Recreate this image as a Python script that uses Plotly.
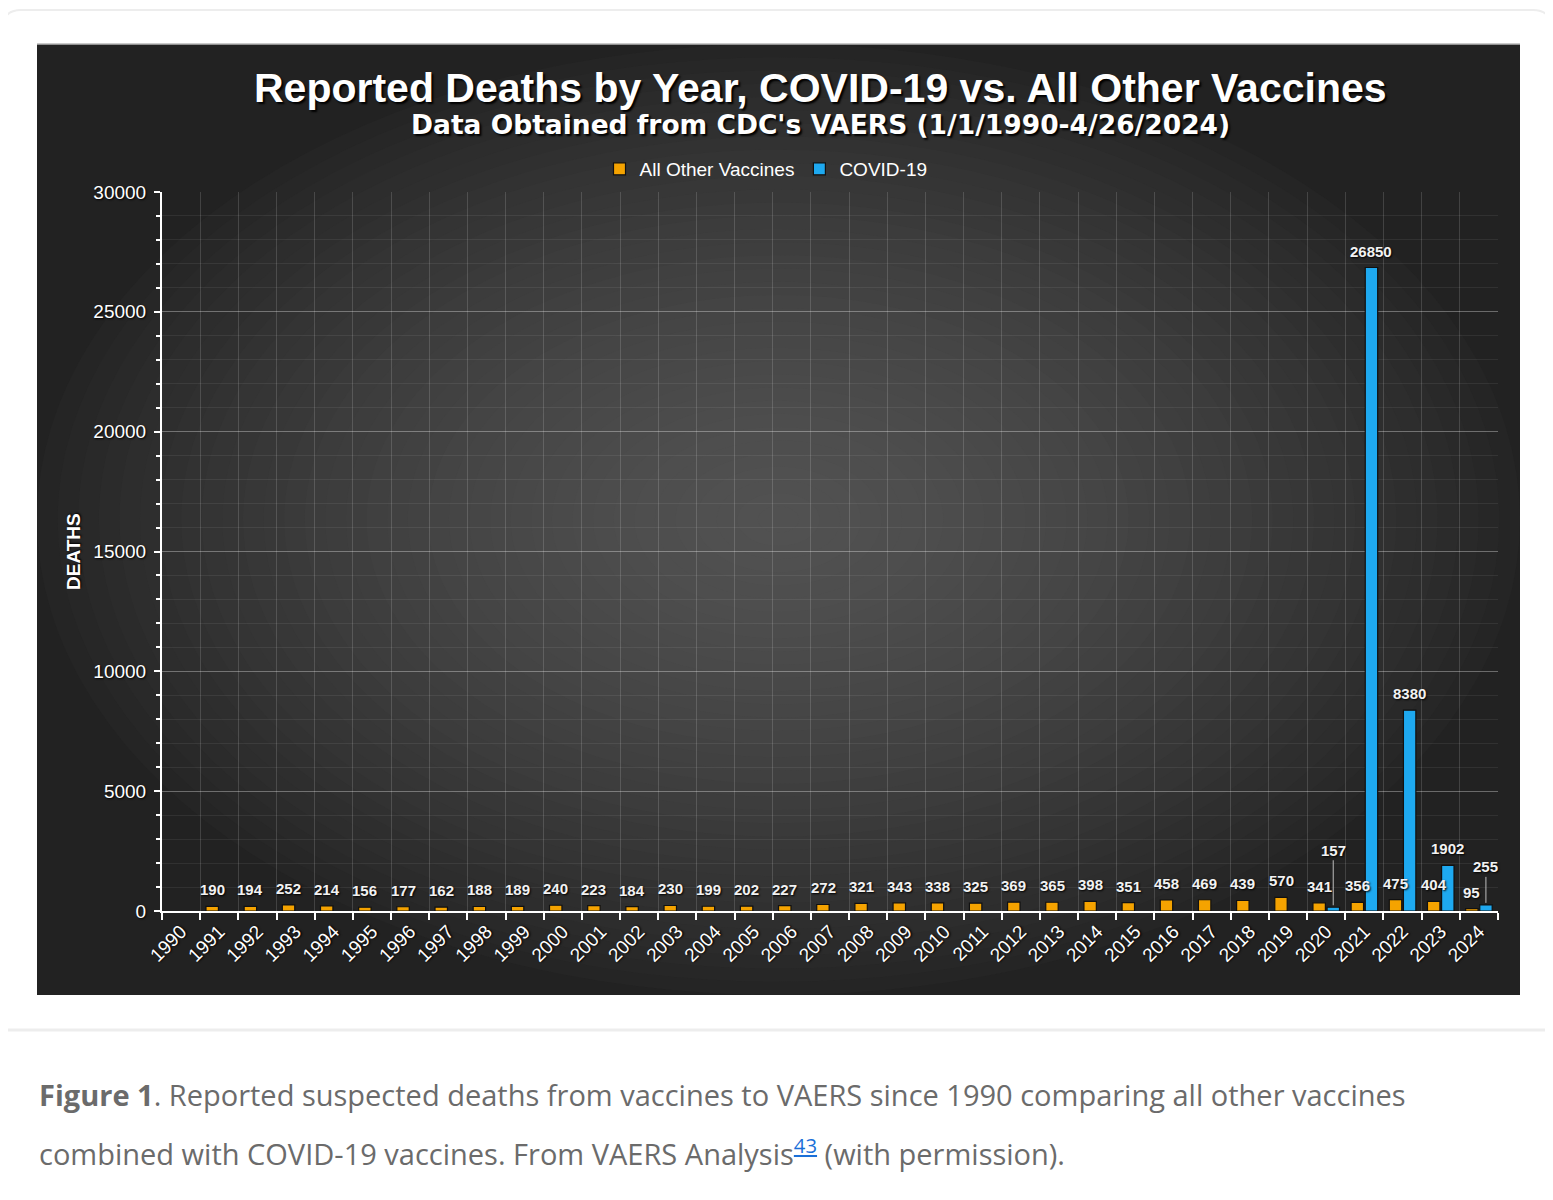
import plotly.graph_objects as go

# ---------------- data ----------------
years = [str(y) for y in range(1990, 2025)]
other_vaccines = [None, 190, 194, 252, 214, 156, 177, 162, 188, 189,
                  240, 223, 184, 230, 199, 202, 227, 272, 321, 343,
                  338, 325, 369, 365, 398, 351, 458, 469, 439, 570,
                  341, 356, 475, 404, 95]
covid19 = [None, None, None, None, None, None, None, None, None, None,
           None, None, None, None, None, None, None, None, None, None,
           None, None, None, None, None, None, None, None, None, None,
           157, 26850, 8380, 1902, 255]
callout_years = ["2020", "2024"]          # labels drawn with leader lines
callout_offsets = [-57, -38]

title = "Reported Deaths by Year, COVID-19 vs. All Other Vaccines"
subtitle = "Data Obtained from CDC's VAERS (1/1/1990-4/26/2024)"

# ---------------- geometry helpers (page coordinates) ----------------
OFF = 8                      # default body margin of the html page
PW, PH = 1553, 1200
W, H = PW - OFF, PH - OFF
L, R, T, B = 162, 1498, 192, 911


def px(x):
    return (x - L) / (R - L)


def py(y):
    return (B - y) / (B - T)


FONT = "Liberation Sans, Arial, sans-serif"
SHADOW = "1px 1px 2px #000"
LABEL_FONT = dict(family=FONT, size=15, color="#F2F2F2", weight="bold", shadow=SHADOW)

fig = go.Figure()
fig.add_trace(go.Bar(
    name="All Other Vaccines", x=years, y=other_vaccines,
    marker=dict(color="#F5A300", line=dict(color="#111", width=1.2)),
))
fig.add_trace(go.Bar(
    name="COVID-19", x=years, y=covid19,
    marker=dict(color="#1EA9F0", line=dict(color="#111", width=1.2)),
))

shapes = []
# page card
shapes.append(dict(type="path", xref="paper", yref="paper",
                   path=f"M {px(3)},{py(1200)} L {px(3)},{py(28)} Q {px(3)},{py(10)} {px(21)},{py(10)} "
                        f"L {px(1533)},{py(10)} Q {px(1551)},{py(10)} {px(1551)},{py(28)} L {px(1551)},{py(1200)}",
                   line=dict(color="#EDEDED", width=2), fillcolor="white", layer="below"))
shapes.append(dict(type="line", xref="paper", yref="paper", x0=px(3), x1=px(1551),
                   y0=py(1030), y1=py(1030), line=dict(color="#EDEDED", width=3), layer="below"))
# dark chart panel with radial glow
P0x, P1x, P0y, P1y = 37, 1520, 44, 995
shapes.append(dict(type="rect", xref="paper", yref="paper",
                   x0=px(P0x), x1=px(P1x), y0=py(P1y), y1=py(P0y),
                   fillcolor="#222222", line=dict(width=0), layer="below"))
cx, cy = (P0x + P1x) / 2, (P0y + P1y) / 2
n = 36
for i in range(n):
    f = 1.0 - i / n
    hw = (P1x - P0x) / 2 * f
    hh = (P1y - P0y) / 2 * f
    g = int(round(37 + 44 * (1 - f ** 1.6)))
    shapes.append(dict(type="circle", xref="paper", yref="paper",
                       x0=px(cx - hw), x1=px(cx + hw), y0=py(cy + hh), y1=py(cy - hh),
                       fillcolor=f"rgb({g},{g},{g})", line=dict(width=0), layer="below"))
shapes.append(dict(type="line", xref="paper", yref="paper", x0=px(P0x), x1=px(P1x),
                   y0=py(P0y), y1=py(P0y), line=dict(color="#B8B8B8", width=1.5), layer="below"))

annotations = [
    dict(text=f"<b>{title}</b>", x=px(820), y=py(88), xref="paper", yref="paper",
         showarrow=False, xanchor="center", yanchor="middle",
         font=dict(family=FONT, size=41, color="white", shadow="2px 2px 2px #000")),
    dict(text=f"<b>{subtitle}</b>", x=px(820), y=py(125), xref="paper", yref="paper",
         showarrow=False, xanchor="center", yanchor="middle",
         font=dict(family="DejaVu Sans, sans-serif", size=26.5, color="white", shadow="2px 2px 2px #000")),
    dict(text="<b>DEATHS</b>", x=px(73), y=py(552), xref="paper", yref="paper",
         showarrow=False, textangle=-90, xanchor="center", yanchor="middle",
         font=dict(family=FONT, size=19, color="white", shadow=SHADOW)),
    dict(text="<b>Figure 1</b>. Reported suspected deaths from vaccines to VAERS since 1990 comparing all other vaccines",
         x=px(37), y=py(1094), xref="paper", yref="paper", showarrow=False,
         xanchor="left", yanchor="middle",
         font=dict(family="Open Sans, sans-serif", size=29, color="#6B6B6B")),
    dict(text="combined with COVID-19 vaccines. From VAERS Analysis"
              "<sup><span style='color:#1A6FD8'><u>43</u></span></sup> (with permission).",
         x=px(37), y=py(1152), xref="paper", yref="paper", showarrow=False,
         xanchor="left", yanchor="middle",
         font=dict(family="Open Sans, sans-serif", size=29, color="#6B6B6B")),
]
# value labels on top of the bars (x given as category index on the category axis)
for i, v in enumerate(other_vaccines):
    if v is not None:
        annotations.append(dict(x=i, y=v, xref="x", yref="y", text=str(v), showarrow=False,
                                xshift=-7, yshift=6, xanchor="center", yanchor="bottom",
                                font=LABEL_FONT))
for i, v in enumerate(covid19):
    if v is not None and years[i] not in callout_years:
        annotations.append(dict(x=i, y=v, xref="x", yref="y", text=str(v), showarrow=False,
                                xshift=7, yshift=6, xanchor="center", yanchor="bottom",
                                font=LABEL_FONT))
for yr, off in zip(callout_years, callout_offsets):
    i = years.index(yr)
    v = covid19[i]
    annotations.append(dict(
        x=i, y=v, xref="x", yref="y", text=str(v), xshift=7,
        showarrow=True, arrowhead=0, arrowwidth=1, arrowcolor="#BDBDBD",
        ax=0, ay=off, standoff=2, font=LABEL_FONT))

fig.update_layout(
    width=W, height=H,
    margin=dict(l=L - OFF, r=PW - R, t=T - OFF, b=PH - B, pad=0),
    paper_bgcolor="white", plot_bgcolor="rgba(0,0,0,0)",
    barmode="group", bargap=0.26, bargroupgap=0.12,
    shapes=shapes, annotations=annotations,
    showlegend=True,
    legend=dict(orientation="h", x=px(766), y=py(169), xanchor="center", yanchor="middle",
                bgcolor="rgba(0,0,0,0)",
                font=dict(family="Liberation Sans Narrow, Liberation Sans, Arial", size=19, color="white"),
                itemwidth=30),
    font=dict(family=FONT, color="white"),
)
fig.update_xaxes(
    type="category", range=[-0.5, len(years) - 0.5],
    tickson="boundaries", ticks="outside", ticklen=7, tickcolor="white", tickwidth=1.5,
    showline=True, linecolor="white", linewidth=2,
    showgrid=True, gridcolor="rgba(255,255,255,0.15)", gridwidth=1,
    tickangle=-45,
    tickfont=dict(family=FONT, size=19, color="white", shadow=SHADOW),
)
fig.update_yaxes(
    range=[0, 30000], dtick=5000, tick0=0, tickformat="d",
    ticks="outside", ticklen=6, tickcolor="white", tickwidth=1.5,
    showline=True, linecolor="white", linewidth=2,
    showgrid=True, gridcolor="rgba(255,255,255,0.33)", gridwidth=1.2,
    zeroline=False, ticklabelstandoff=4,
    tickfont=dict(family=FONT, size=19, color="white", shadow=SHADOW),
    minor=dict(dtick=1000, ticks="outside", ticklen=4, tickcolor="white",
               showgrid=True, gridcolor="rgba(255,255,255,0.07)"),
)

fig.write_html("out.html")
